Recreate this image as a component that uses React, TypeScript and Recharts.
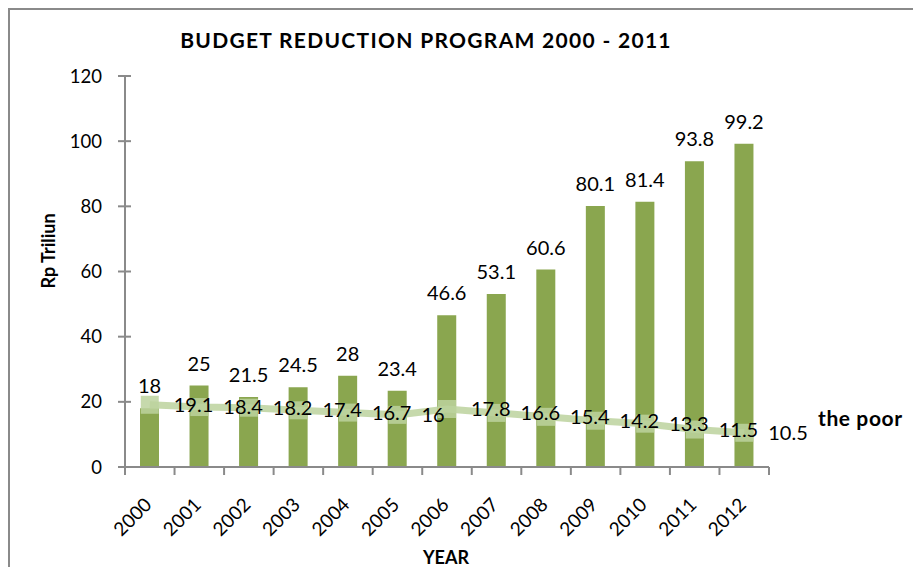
import React from 'react';
import { ComposedChart, Bar, Line, XAxis, YAxis, LabelList } from 'recharts';

const years = ['2000', '2001', '2002', '2003', '2004', '2005', '2006', '2007', '2008', '2009', '2010', '2011', '2012'];
const budget = [18, 25, 21.5, 24.5, 28, 23.4, 46.6, 53.1, 60.6, 80.1, 81.4, 93.8, 99.2];
const poor = [19.1, 18.4, 18.2, 17.4, 16.7, 16, 17.8, 16.6, 15.4, 14.2, 13.3, 11.5, 10.5];
const yTicks = [0, 20, 40, 60, 80, 100, 120];

const data = years.map((year, i) => ({ year, budget: budget[i], poor: poor[i] }));

const W = 911;
const H = 562;
const MARGIN = { top: 66, right: 152, bottom: 45, left: 55 };
const YW = 60;
const XH = 60;
const STEP = (W - MARGIN.left - YW - MARGIN.right) / years.length;

const FONT = 'Lato, "Open Sans", sans-serif';
const AXIS = '#8a8a8a';
const BAR = '#8aa64f';
const LINE = '#bcd29d';

const SquareDot = (p: any) => {
  const { cx, cy, index } = p;
  if (cx == null || cy == null) return <g key={index} />;
  return <rect key={index} x={cx - 9} y={cy - 9} width={18} height={18} fill={LINE} fillOpacity={0.85} />;
};

const YTick = (p: any) => {
  const { x, y, payload } = p;
  return (
    <g>
      <line x1={x + 16} x2={x + 29} y1={y} y2={y} stroke={AXIS} strokeWidth={2} />
      <text x={x} y={y} dy={6.5} textAnchor="end" fontSize={18.5} fill="#000" fontFamily={FONT}>
        {payload.value}
      </text>
    </g>
  );
};

const XTick = (p: any) => {
  const { x, y, payload, index } = p;
  const ax = y - 10;
  const tx = x + 3;
  const ty = ax + 39;
  return (
    <g>
      <line x1={x - STEP / 2} x2={x - STEP / 2} y1={ax} y2={ax + 8} stroke={AXIS} strokeWidth={2} />
      {index === years.length - 1 && (
        <line x1={x + STEP / 2} x2={x + STEP / 2} y1={ax} y2={ax + 8} stroke={AXIS} strokeWidth={2} />
      )}
      <text x={tx} y={ty} textAnchor="end" transform={`rotate(-45 ${tx} ${ty})`} fontSize={19} fill="#000" fontFamily={FONT}>
        {payload.value}
      </text>
    </g>
  );
};

export default function App() {
  return (
    <div style={{ position: 'relative', width: 913, height: 559 }}>
      <div
        style={{
          position: 'absolute',
          left: 0,
          top: 0,
          width: W,
          height: H,
          borderLeft: '2px solid #8a8a8a',
          borderTop: '2px solid #8a8a8a',
          borderBottom: '2px solid #8a8a8a',
          boxShadow: '-2px 2px 3px rgba(0,0,0,0.25)',
          background: '#fff',
          fontFamily: FONT,
        }}
      >
        <ComposedChart width={W} height={H} data={data} margin={MARGIN}>
          <XAxis
            dataKey="year"
            height={XH}
            interval={0}
            tickLine={false}
            tickSize={8}
            tickMargin={2}
            tick={XTick}
            axisLine={{ stroke: AXIS, strokeWidth: 2 }}
          />
          <YAxis
            width={YW}
            domain={[0, 120]}
            ticks={yTicks}
            interval={0}
            tickLine={false}
            tickSize={7}
            tickMargin={16}
            tick={YTick}
            axisLine={{ stroke: AXIS, strokeWidth: 2 }}
          />
          <Bar dataKey="budget" fill={BAR} barSize={19} isAnimationActive={false}>
            <LabelList dataKey="budget" position="top" offset={15} fontSize={20} fill="#000" fontFamily={FONT} />
          </Bar>
          <Line
            dataKey="poor"
            type="linear"
            stroke={LINE}
            strokeOpacity={0.85}
            strokeWidth={7}
            dot={SquareDot}
            activeDot={false}
            isAnimationActive={false}
          >
            <LabelList dataKey="poor" position="right" offset={24} fontSize={20} fill="#000" fontFamily={FONT} />
          </Line>
        </ComposedChart>
        <div
          style={{
            position: 'absolute',
            left: 416,
            top: 18,
            transform: 'translateX(-50%)',
            whiteSpace: 'nowrap',
            fontSize: 21,
            letterSpacing: 1.3,
            lineHeight: '24px',
            fontWeight: 700,
            color: '#000',
          }}
        >
          BUDGET REDUCTION PROGRAM 2000 - 2011
        </div>
        <div
          style={{
            position: 'absolute',
            left: 38,
            top: 241,
            transform: 'translate(-50%, -50%) rotate(-90deg)',
            whiteSpace: 'nowrap',
            fontSize: 18,
            lineHeight: '22px',
            fontWeight: 700,
            color: '#000',
          }}
        >
          Rp Triliun
        </div>
        <div
          style={{
            position: 'absolute',
            left: 436,
            top: 547,
            transform: 'translate(-50%, -50%)',
            whiteSpace: 'nowrap',
            fontSize: 18,
            lineHeight: '22px',
            fontWeight: 700,
            color: '#000',
          }}
        >
          YEAR
        </div>
        <div
          style={{
            position: 'absolute',
            left: 808,
            top: 408,
            transform: 'translateY(-50%)',
            whiteSpace: 'nowrap',
            fontSize: 21,
            letterSpacing: 0.6,
            lineHeight: '24px',
            fontWeight: 700,
            color: '#000',
          }}
        >
          the poor
        </div>
      </div>
    </div>
  );
}
